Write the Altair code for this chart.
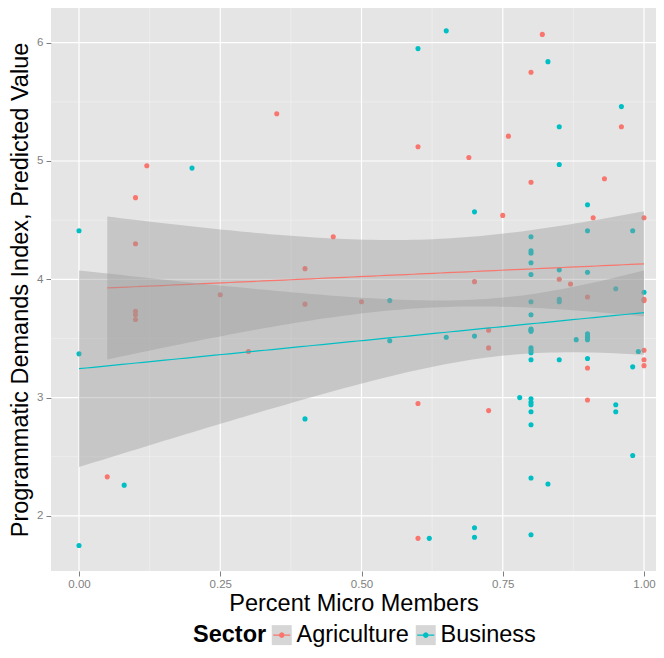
import numpy as np
import pandas as pd
import altair as alt

sectors = ["Agriculture", "Business"]
colors = ["#F8766D", "#00BFC4"]

ag_x = [0.05, 0.10, 0.10, 0.10, 0.10, 0.10, 0.12, 0.25, 0.30, 0.35, 0.40, 0.40, 0.45, 0.50,
        0.60, 0.60, 0.60, 0.69, 0.70, 0.725, 0.725, 0.725, 0.75, 0.76, 0.80, 0.80, 0.82, 0.85,
        0.87, 0.90, 0.90, 0.90, 0.91, 0.93, 0.96, 1.0, 1.0, 1.0, 1.0, 1.0, 1.0]
ag_y = [2.33, 4.69, 4.30, 3.73, 3.70, 3.66, 4.96, 3.87, 3.39, 5.40, 4.09, 3.79, 4.36, 3.81,
        5.12, 2.95, 1.81, 5.03, 3.98, 3.57, 3.42, 2.89, 4.54, 5.21, 5.75, 4.82, 6.07, 4.00,
        3.96, 3.85, 3.25, 2.98, 4.52, 4.85, 5.29, 4.52, 3.83, 3.82, 3.40, 3.32, 3.27]

bu_x = [0.0, 0.0, 0.0, 0.08, 0.20, 0.40, 0.55, 0.55, 0.60, 0.62, 0.65, 0.65, 0.70, 0.70, 0.70,
        0.70, 0.78,
        0.80, 0.80, 0.80, 0.80, 0.80, 0.80, 0.80, 0.80, 0.80, 0.80, 0.80, 0.80, 0.80, 0.80,
        0.80, 0.80, 0.80, 0.80, 0.80, 0.80, 0.80,
        0.83, 0.83, 0.85, 0.85, 0.85, 0.85, 0.85, 0.85, 0.88,
        0.90, 0.90, 0.90, 0.90, 0.90, 0.90, 0.90, 0.90,
        0.95, 0.95, 0.95, 0.96, 0.98, 0.98, 0.98, 0.99, 1.0]
bu_y = [4.41, 3.37, 1.75, 2.26, 4.94, 2.82, 3.82, 3.48, 5.95, 1.81, 6.10, 3.51, 4.57, 3.52, 1.90,
        1.82, 3.00,
        4.36, 4.24, 4.22, 4.14, 4.04, 3.81, 3.70, 3.58, 3.57, 3.56, 3.42, 3.40, 3.38, 3.32,
        2.99, 2.96, 2.94, 2.88, 2.77, 2.32, 1.84,
        5.84, 2.27, 5.29, 4.97, 4.08, 3.83, 3.81, 3.32, 3.49,
        4.63, 4.41, 4.06, 3.54, 3.52, 3.51, 3.49, 3.33,
        3.92, 2.94, 2.88, 5.46, 4.41, 3.26, 2.51, 3.39, 3.89]

x_ticks = [0.0, 0.25, 0.5, 0.75, 1.0]
y_ticks = [2, 3, 4, 5, 6]
x_minor = [0.125, 0.375, 0.625, 0.875]
y_minor = [2.5, 3.5, 4.5, 5.5]

pts = pd.concat([
    pd.DataFrame({"Sector": sectors[0], "x": ag_x, "y": ag_y}),
    pd.DataFrame({"Sector": sectors[1], "x": bu_x, "y": bu_y}),
], ignore_index=True)


def t975(df):
    z = 1.959963985
    g1 = (z**3 + z) / 4
    g2 = (5 * z**5 + 16 * z**3 + 3 * z) / 96
    g3 = (3 * z**7 + 19 * z**5 + 17 * z**3 - 15 * z) / 384
    return z + g1 / df + g2 / df**2 + g3 / df**3


fits = []
for s, xs, ys in [(sectors[0], ag_x, ag_y), (sectors[1], bu_x, bu_y)]:
    xs = np.asarray(xs, float)
    ys = np.asarray(ys, float)
    n = len(xs)
    b, a = np.polyfit(xs, ys, 1)
    resid = ys - (a + b * xs)
    sig = np.sqrt(np.sum(resid**2) / (n - 2))
    sxx = np.sum((xs - xs.mean())**2)
    grid = np.linspace(xs.min(), xs.max(), 80)
    fit = a + b * grid
    se = sig * np.sqrt(1.0 / n + (grid - xs.mean())**2 / sxx)
    tq = t975(n - 2)
    fits.append(pd.DataFrame({"Sector": s, "Key": s, "x": grid, "fit": fit,
                              "lo": fit - tq * se, "hi": fit + tq * se}))
fit_df = pd.concat(fits, ignore_index=True)

FONT = "Liberation Sans"
xscale = alt.Scale(domain=[-0.04956, 1.02124], nice=False, zero=False)
yscale = alt.Scale(domain=[1.5342, 6.2933], nice=False, zero=False)

xaxis = alt.Axis(
    values=x_ticks, format=".2f", grid=False, domain=False,
    tickColor="#7F7F7F", tickSize=5, tickWidth=1,
    labelColor="#7F7F7F", labelFontSize=11.5, labelPadding=2, labelFont=FONT,
    title="Percent Micro Members", titleFontSize=23.5, titleFontWeight="normal",
    titleColor="#000000", titleFont=FONT, titlePadding=2)
yaxis = alt.Axis(
    values=y_ticks, format="d", grid=False, domain=False,
    tickColor="#7F7F7F", tickSize=5, tickWidth=1,
    labelColor="#7F7F7F", labelFontSize=11.5, labelPadding=3, labelFont=FONT,
    title="Programmatic Demands Index, Predicted Value", titleFontSize=23.5,
    titleFontWeight="normal", titleColor="#000000", titleFont=FONT, titlePadding=4)


def X(field):
    return alt.X(field, type="quantitative", scale=xscale, axis=xaxis)


def Y(field):
    return alt.Y(field, type="quantitative", scale=yscale, axis=yaxis)


minor_x = alt.Chart(pd.DataFrame({"v": x_minor})).mark_rule(color="#F2F2F2", strokeWidth=0.6).encode(
    x=X("v"))
minor_y = alt.Chart(pd.DataFrame({"v": y_minor})).mark_rule(color="#F2F2F2", strokeWidth=0.6).encode(
    y=Y("v"))
major_x = alt.Chart(pd.DataFrame({"v": x_ticks})).mark_rule(color="#FFFFFF", strokeWidth=1.2).encode(
    x=X("v"))
major_y = alt.Chart(pd.DataFrame({"v": y_ticks})).mark_rule(color="#FFFFFF", strokeWidth=1.2).encode(
    y=Y("v"))

# data-derived domain (alphabetical = sectors order) so this hidden legend is not merged
points = alt.Chart(pts).mark_circle(size=26, opacity=1).encode(
    x=X("x"), y=Y("y"),
    fill=alt.Fill("Sector:N", scale=alt.Scale(range=colors), legend=None),
)


def ring(r, k=12):
    pts_ = []
    for i in range(k):
        ang = 2 * np.pi * i / k
        pts_.append("%.3f,%.3f" % (r * np.cos(ang), r * np.sin(ang)))
    return "M" + "L".join(pts_) + "Z"


common_legend = dict(title="Sector", orient="none", legendX=142, legendY=615,
                     direction="horizontal", titleOrient="left", titleFontSize=23.5,
                     titleFontWeight="bold", titleFont=FONT, labelFont=FONT,
                     labelFontSize=23.5, labelOffset=3, columnPadding=5, titlePadding=3,
                     padding=0, symbolSize=400)

key_path = "M-0.85,0L0.85,0" + ring(0.22) + ring(0.12) + ring(0.04)
line_legend = alt.Legend(symbolType=key_path, symbolStrokeWidth=1.2,
                         labelColor="#000000", titleColor="#000000", **common_legend)
grey_legend = alt.Legend(symbolType="square", symbolFillColor="#7F7F7F", symbolStrokeWidth=0,
                         labelColor="transparent", titleColor="transparent", **common_legend)

layers = [minor_x, minor_y, major_x, major_y, points]
for s in sectors:
    band = alt.Chart(fit_df).transform_filter(alt.datum.Sector == s).mark_area(
        color="#999999").encode(
        x=X("x"), y=Y("lo"), y2="hi:Q",
        opacity=alt.Opacity("Key:N", scale=alt.Scale(range=[0.4, 0.4]), legend=grey_legend),
    )
    line = alt.Chart(fit_df).transform_filter(alt.datum.Sector == s).mark_line(
        strokeWidth=1.2).encode(
        x=X("x"), y=Y("fit"),
        color=alt.Color("Sector:N", scale=alt.Scale(domain=sectors, range=colors),
                        legend=line_legend),
    )
    layers += [band, line]

chart = alt.layer(*layers).properties(
    width=605, height=563,
    autosize=alt.AutoSizeParams(type="none"),
    padding={"left": 43, "top": 0, "right": 0, "bottom": 79},
).configure(font=FONT).configure_view(fill="#E5E5E5", strokeWidth=0)

chart.save("out.html", embed_options={"renderer": "svg", "actions": False})
